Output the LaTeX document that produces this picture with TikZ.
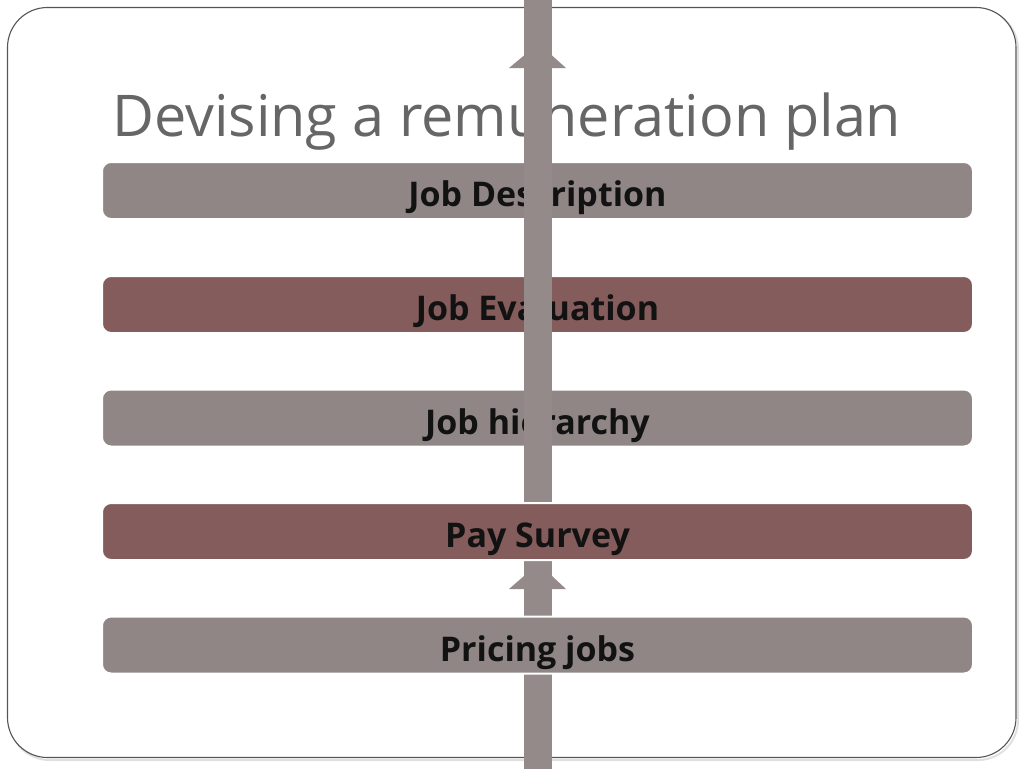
\documentclass[tikz,border=0pt]{standalone}
\usepackage{fontspec}
\setmainfont{Open Sans}
\definecolor{bargray}{RGB}{145,134,134}
\definecolor{barred}{RGB}{132,92,91}
\definecolor{arrowgray}{RGB}{148,138,138}
\definecolor{titlegray}{RGB}{102,102,102}
\definecolor{framegray}{RGB}{85,85,85}
\begin{document}
\begin{tikzpicture}[x=1pt,y=-1pt,
  barbox/.style={draw=white,line width=2pt,rounded corners=9pt,minimum width=871pt,minimum height=57pt,inner sep=0pt,
    text height=32pt,text depth=0pt,
    font=\fontsize{34}{40}\selectfont\bfseries,text=black!93},
  graybar/.style={barbox,fill=bargray},
  redbar/.style={barbox,fill=barred},
  arrowpart/.style={fill=arrowgray}]
\useasboundingbox (0,0) rectangle (1024,768);
% frame with faint shadow
\draw[black!12,line width=2pt,rounded corners=40pt] (9.5,9.5) rectangle (1018,760);
\draw[fill=white,draw=framegray,line width=1.1pt,rounded corners=40pt] (7.5,7.5) rectangle (1016,757.5);
% title
\node[anchor=base west,inner sep=0pt,text=titlegray,font=\fontsize{57.5}{66}\selectfont] (title) at (112,136) {Devising a remuneration plan};
% upper bars
\node[graybar] (b1) at (537.5,190.5) {Job Description};
\node[redbar] (b2) at (537.5,304.5) {Job Evaluation};
\node[graybar] (b3) at (537.5,418) {Job hierarchy};
% arrow
\fill[arrowpart] (524,-2) rectangle (552,770);
\fill[arrowpart] (509,68) -- (524,68) -- (524,55.5) -- cycle;
\fill[arrowpart] (566,68) -- (552,68) -- (552,55.5) -- cycle;
\fill[arrowpart] (509,589) -- (524,589) -- (524,576) -- cycle;
\fill[arrowpart] (566,589) -- (552,589) -- (552,576) -- cycle;
% lower bars
\node[redbar] (b4) at (537.5,531.5) {Pay Survey};
\node[graybar] (b5) at (537.5,645) {Pricing jobs};
\end{tikzpicture}
\end{document}
